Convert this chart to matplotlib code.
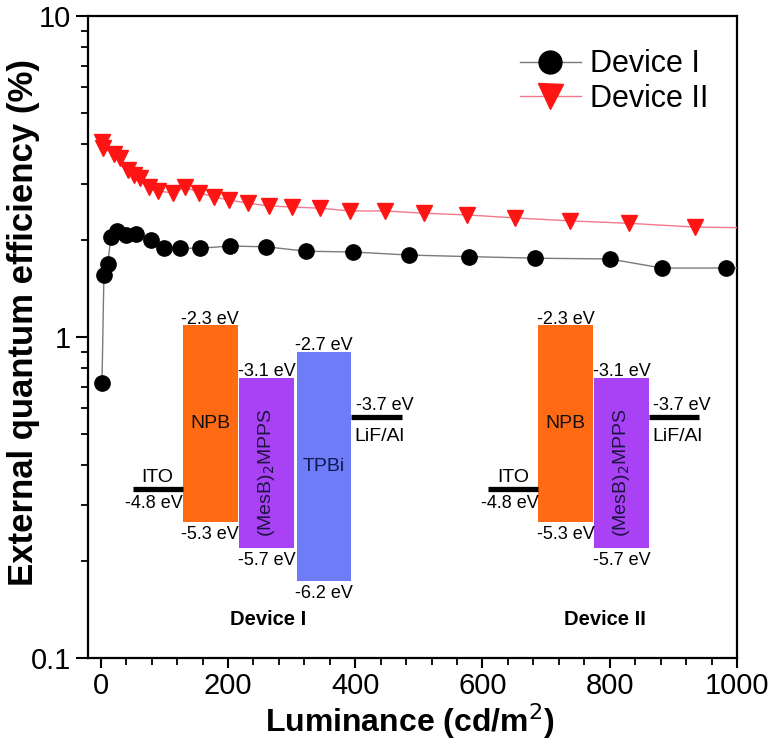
import matplotlib
matplotlib.use("Agg")
import matplotlib.pyplot as plt
from matplotlib.ticker import MultipleLocator, LogLocator, FixedLocator, NullFormatter
import numpy as np

# ---------------- data ----------------
dev1_x = [2, 5, 11, 16, 25, 39, 55, 79, 99, 125, 156, 203, 260, 323, 397, 484, 579, 683, 800, 882, 983, 1080]
dev1_y = [0.72, 1.56, 1.69, 2.05, 2.14, 2.08, 2.09, 2.00, 1.89, 1.89, 1.89, 1.92, 1.91, 1.85, 1.84, 1.80, 1.78, 1.76, 1.75, 1.64, 1.64, 1.64]

dev2_x = [2, 4, 21, 30, 43, 52, 62, 76, 90, 114, 133, 155, 178, 202, 232, 265, 300, 344, 391, 446, 508, 576, 651, 738, 831, 934, 1080]
dev2_y = [4.05, 3.88, 3.72, 3.60, 3.31, 3.20, 3.13, 2.93, 2.85, 2.81, 2.93, 2.81, 2.73, 2.67, 2.61, 2.56, 2.54, 2.52, 2.47, 2.47, 2.43, 2.40, 2.35, 2.30, 2.26, 2.20, 2.18]

series_labels = ["Device I", "Device II"]
x_ticks = [0, 200, 400, 600, 800, 1000]
y_ticks = [0.1, 1, 10]
y_ticklabels = ["0.1", "1", "10"]

# energy level diagrams (eV)
dev1_layers = ["NPB", "(MesB)$_2$MPPS", "TPBi"]
dev1_lumo = [-2.3, -3.1, -2.7]
dev1_homo = [-5.3, -5.7, -6.2]
dev2_layers = ["NPB", "(MesB)$_2$MPPS"]
dev2_lumo = [-2.3, -3.1]
dev2_homo = [-5.3, -5.7]
anode_level = -4.8      # ITO
cathode_level = -3.7    # LiF/Al

# ---------------- layout / style ----------------
layer_colors = {"NPB": "#FF6A12", "(MesB)$_2$MPPS": "#A842F4", "TPBi": "#6E7CF8"}
layer_textcolor = {"NPB": "#111111", "(MesB)$_2$MPPS": "#1c1440", "TPBi": "#101850"}
layer_w = 86
elec_w = 79
dev1_left = [129, 218, 308]
dev2_left = [688, 776]

plt.rcParams['font.family'] = ['Liberation Sans', 'DejaVu Sans']

W, H = 770, 747
fig = plt.figure(figsize=(W / 100, H / 100), dpi=100)
L, R, T, B = 88, 737, 16, 658
pos = [L / W, 1 - B / H, (R - L) / W, (B - T) / H]
ax = fig.add_axes(pos)

ax.plot(dev1_x, dev1_y, '-', color='#7a7a7a', lw=1.0, marker='o', ms=11,
        mfc='black', mec='black', label=series_labels[0], zorder=3)
ax.plot(dev2_x, dev2_y, '-', color='#f07a8c', lw=1.0, marker='v', ms=12,
        mfc='#ff1414', mec='#ff1414', label=series_labels[1], zorder=3)

ax.set_yscale('log')
ax.set_xlim(-20, 1000)
ax.set_ylim(0.1, 10)
ax.xaxis.set_major_locator(FixedLocator(x_ticks))
ax.xaxis.set_minor_locator(MultipleLocator(40))
ax.yaxis.set_major_locator(FixedLocator(y_ticks))
ax.yaxis.set_minor_locator(LogLocator(base=10, subs=np.arange(2, 10)))
ax.yaxis.set_minor_formatter(NullFormatter())
ax.set_yticklabels(y_ticklabels)
ax.set_xticklabels([str(v) for v in x_ticks])

for s in ax.spines.values():
    s.set_linewidth(1.6)
ax.tick_params(which='major', direction='out', length=7, width=1.5, labelsize=21, pad=3)
ax.tick_params(which='minor', direction='out', length=5, width=1.3)
ax.tick_params(axis='y', which='major', length=9)

ax.set_xlabel("Luminance (cd/m$^2$)", fontsize=23, fontweight='bold', va='top')
ax.set_ylabel("External quantum efficiency (%)", fontsize=25, fontweight='bold', va='center')
ax.xaxis.set_label_coords(0.496, -0.068)
ax.yaxis.set_label_coords(-0.099, 0.523)

leg = ax.legend(loc='upper left', bbox_to_anchor=(0.642, 0.972), frameon=False,
                fontsize=22, markerscale=1.5, handlelength=2.0, handletextpad=0.3,
                labelspacing=0.15, borderpad=0.0)

# ---------------- energy diagrams (overlay axes in eV) ----------------
ax2 = fig.add_axes(pos)
ax2.set_xlim(ax.get_xlim())
ax2.set_ylim(-7.384, 2.432)
ax2.axis('off')
ax2.patch.set_alpha(0)

EV_FS = 13
NAME_FS = 14

def fmt(v):
    return f"{v:.1f} eV"

def diagram(layers, lumo, homo, lefts, title, title_x):
    for name, lu, ho, x0 in zip(layers, lumo, homo, lefts):
        ax2.bar(x0, lu - ho, bottom=ho, width=layer_w, align='edge',
                color=layer_colors[name], edgecolor='none')
        xc = x0 + layer_w / 2
        rot = 90 if name.startswith("(") else 0
        ax2.text(xc, (lu + ho) / 2 + (0.0 if rot == 0 else -0.15), name, ha='center', va='center',
                 rotation=rot, fontsize=NAME_FS, color=layer_textcolor[name])
        ax2.annotate(fmt(lu), (xc, lu), xytext=(0, -1.5), textcoords='offset points',
                     ha='center', va='bottom', fontsize=EV_FS)
        ax2.annotate(fmt(ho), (xc, ho), xytext=(0, -3), textcoords='offset points',
                     ha='center', va='top', fontsize=EV_FS)
    # anode
    a1 = lefts[0]
    a0 = a1 - elec_w
    ax2.hlines(anode_level, a0, a1, color='black', lw=3.8)
    ax2.annotate("ITO", ((a0 + a1) / 2, anode_level), xytext=(0, 2), textcoords='offset points',
                 ha='center', va='bottom', fontsize=NAME_FS)
    ax2.annotate(fmt(anode_level), (a1, anode_level), xytext=(0, -4), textcoords='offset points',
                 ha='right', va='top', fontsize=EV_FS)
    # cathode
    c0 = lefts[-1] + layer_w
    c1 = c0 + elec_w
    ax2.hlines(cathode_level, c0, c1, color='black', lw=3.8)
    ax2.annotate(fmt(cathode_level), (c0, cathode_level), xytext=(3, 2), textcoords='offset points',
                 ha='left', va='bottom', fontsize=EV_FS)
    ax2.annotate("LiF/Al", (c0, cathode_level), xytext=(2, -8), textcoords='offset points',
                 ha='left', va='top', fontsize=NAME_FS)
    ax2.text(title_x, -6.80, title, ha='center', va='center', fontsize=14.5, fontweight='bold')

diagram(dev1_layers, dev1_lumo, dev1_homo, dev1_left, "Device I", 263)
diagram(dev2_layers, dev2_lumo, dev2_homo, dev2_left, "Device II", 792)

fig.savefig("out.png", dpi=100)
